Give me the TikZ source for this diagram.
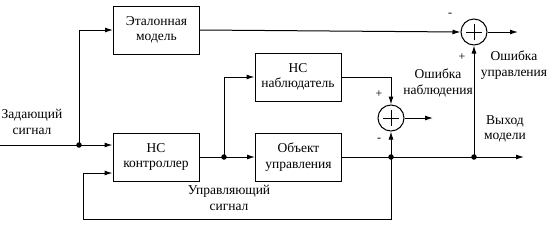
\documentclass[tikz,border=0pt]{standalone}
\usepackage{fontspec}
\setmainfont{Liberation Serif}
\newfontfamily\serifru{Liberation Serif}
\usetikzlibrary{arrows.meta}
\begin{document}
\begin{tikzpicture}[x=1pt,y=-1pt,
  blk/.style={draw,line width=1pt,minimum width=86pt,minimum height=48pt,align=center,font=\serifru\fontsize{13.5}{15.5}\selectfont,inner sep=0pt},
  sumc/.style={draw,circle,line width=1pt,minimum size=26pt,inner sep=0pt},
  arr/.style={line width=1pt,-{Latex[length=8pt,width=5pt]}},
  ln/.style={line width=1pt},
  lbl/.style={align=center,font=\serifru\fontsize{13.5}{15.5}\selectfont,inner sep=0pt},
  sgn/.style={font=\serifru\fontsize{12}{12}\selectfont,inner sep=0pt},
  dot/.style={circle,fill,inner sep=0pt,minimum size=5.5pt}]
\useasboundingbox (0,0) rectangle (555,226);
\node[blk] (ref) at (156.5,30) {Эталонная\\модель};
\node[blk] (obs) at (298,77) {НС\\наблюдатель};
\node[blk] (ctrl) at (156,157) {НС\\контроллер};
\node[blk] (plant) at (298.5,157) {Объект\\управления};
\node[sumc] (s1) at (474,32) {};
\node[sumc] (s2) at (391,118) {};
\draw[ln] ([xshift=-8pt]s1.center) -- ([xshift=8pt]s1.center) ([yshift=-8pt]s1.center) -- ([yshift=8pt]s1.center);
\draw[ln] ([xshift=-8pt]s2.center) -- ([xshift=8pt]s2.center) ([yshift=-8pt]s2.center) -- ([yshift=8pt]s2.center);
\coordinate (in) at (0,145);
\node[dot] (j1) at (79,145) {};
\node[dot] (j2) at (224,157) {};
\node[dot] (j3) at (391,157) {};
\node[dot] (j4) at (474,157) {};
\coordinate (oend) at (524,157);
\coordinate (o1) at (518,32);
\coordinate (o2) at (433,118);
\coordinate (fb1) at (83,219);
\coordinate (fbin) at (83,173);
\draw[arr] (in) -- (ctrl.west |- in);
\draw[arr] (j1.center) |- (ref.west);
\draw[arr] (ctrl.east) -- (plant.west);
\draw[arr] (j2.center) |- (obs.west);
\draw[arr] (ref.east) -- (s1.west);
\draw[arr] (s1.east) -- (o1);
\draw[arr] (plant.east) -- (oend);
\draw[arr] (j4.center) -- (s1.south);
\draw[arr] (obs.east) -| (s2.north);
\draw[arr] (j3.center) -- (s2.south);
\draw[arr] (s2.east) -- (o2);
\draw[arr] (j3.center) -- (j3 |- fb1) -- (fb1) -- (fbin) -- (ctrl.west |- fbin);
\node[sgn] (m1) at (450,15) {-};
\node[sgn] (p1) at (462,57) {+};
\node[sgn] (p2) at (379,94) {+};
\node[sgn] (m2) at (379,140) {-};
\node[lbl] (t1) at (514,65) {Ошибка\\управления};
\node[lbl] (t2) at (438,83) {Ошибка\\наблюдения};
\node[lbl] (t3) at (32,122) {Задающий\\сигнал};
\node[lbl] (t4) at (229,198) {Управляющий\\сигнал};
\node[lbl] (t5) at (505,129) {Выход\\модели};
\end{tikzpicture}
\end{document}
